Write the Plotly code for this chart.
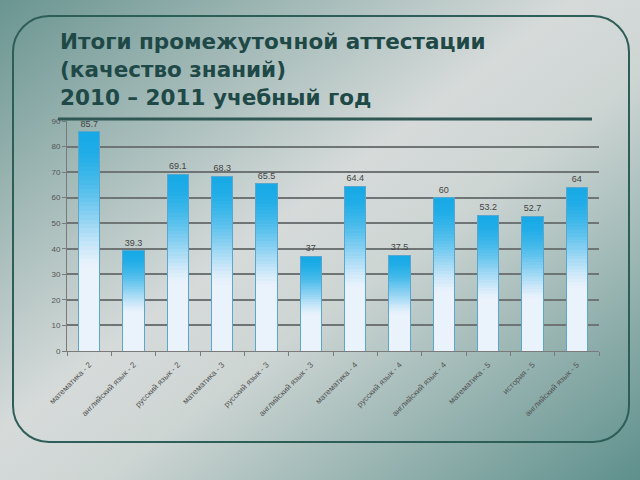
import base64
import plotly.graph_objects as go

subjects = [
    "математика - 2", "английский язык - 2", "русский язык - 2",
    "математика - 3", "русский язык - 3", "английский язык - 3",
    "математика - 4", "русский язык - 4", "английский язык - 4",
    "математика - 5", "история - 5", "английский язык - 5",
]
quality = [85.7, 39.3, 69.1, 68.3, 65.5, 37, 64.4, 37.5, 60, 53.2, 52.7, 64]
title_lines = ["Итоги промежуточной аттестации", "(качество знаний)", "2010 – 2011 учебный год"]

W, H = 640, 480
ML, MR, MT, MB = 67, 41, 121, 129
PW, PH = W - ML - MR, H - MT - MB


def px(x):
    return (x - ML) / PW


def py(y):
    return 1 - (y - MT) / PH


# slide background: diagonal teal -> light -> teal, plus rounded frame
svg = f"""<svg xmlns='http://www.w3.org/2000/svg' width='{W}' height='{H}' viewBox='0 0 {W} {H}' preserveAspectRatio='none'>
<defs><linearGradient id='g' x1='0' y1='0' x2='1' y2='1'>
<stop offset='0' stop-color='#6a9591'/>
<stop offset='0.45' stop-color='#d6dbda'/>
<stop offset='0.58' stop-color='#cdd5d3'/>
<stop offset='1' stop-color='#5e908c'/>
</linearGradient></defs>
<rect width='{W}' height='{H}' fill='url(#g)'/>
<rect x='13' y='16' width='616' height='426' rx='36' ry='36' fill='none' stroke='#2e5e58' stroke-width='2'/>
</svg>"""
bg = "data:image/svg+xml;base64," + base64.b64encode(svg.encode()).decode()


def mix(c1, c2, t):
    return "rgb({},{},{})".format(*[round(a + (b - a) * t) for a, b in zip(c1, c2)])


light = (234, 242, 252)
blue = (24, 170, 230)
n = 50

fig = go.Figure()
for i in range(n):
    f = (i + 0.5) / n
    s = min(max((f - 0.38) / 0.62, 0), 1)
    t = s * s * (3 - 2 * s)
    t = t ** 0.7
    fig.add_trace(go.Bar(
        x=subjects,
        y=[v / n for v in quality],
        marker_color=mix(light, blue, t),
        marker_line_width=0,
        hoverinfo="skip",
        showlegend=False,
    ))

# outline + value labels on an overlaid axis
fig.add_trace(go.Bar(
    x=subjects,
    y=quality,
    xaxis="x2",
    marker_color="rgba(0,0,0,0)",
    marker_line_color="#5aa6cc",
    marker_line_width=1,
    text=[str(v) for v in quality],
    textposition="outside",
    textfont=dict(size=9, color="#444444", family="Liberation Sans"),
    cliponaxis=False,
    showlegend=False,
))

fig.update_layout(
    width=W, height=H,
    margin=dict(l=ML, r=MR, t=MT, b=MB),
    paper_bgcolor="rgba(0,0,0,0)",
    plot_bgcolor="rgba(0,0,0,0)",
    barmode="stack",
    bargap=0.52,
    font=dict(family="Liberation Sans", color="#555555"),
    xaxis=dict(
        type="category",
        tickangle=-45,
        tickfont=dict(size=8, color="#555555"),
        ticklabelstandoff=5,
        showline=True, linecolor="#7a7a7a", linewidth=1,
        ticks="outside", tickson="boundaries", ticklen=4, tickcolor="#7a7a7a",
        showgrid=False,
    ),
    xaxis2=dict(
        type="category", overlaying="x", matches="x", visible=False,
    ),
    yaxis=dict(
        range=[0, 90],
        dtick=10,
        tickfont=dict(size=8, color="#555555"),
        showline=True, linecolor="#7a7a7a", linewidth=1,
        ticks="outside", ticklen=4, tickcolor="#7a7a7a",
        showgrid=True, gridcolor="#6f7474", gridwidth=1.5,
        zeroline=False,
    ),
    images=[dict(
        source=bg, xref="paper", yref="paper",
        x=px(0), y=py(0), sizex=W / PW, sizey=H / PH,
        xanchor="left", yanchor="top", sizing="stretch", layer="below",
    )],
    shapes=[dict(
        type="line", xref="paper", yref="paper",
        x0=px(58), x1=px(592), y0=py(119), y1=py(119),
        line=dict(color="#2f5753", width=3),
    )],
    annotations=[dict(
        text="<br>".join(title_lines),
        xref="paper", yref="paper",
        x=px(58), y=py(27),
        xanchor="left", yanchor="top", align="left",
        showarrow=False,
        font=dict(size=21.5, color="#1f4947", family="DejaVu Sans"),
    )],
)
fig.update_annotations(font_weight="bold")

fig.write_html("out.html", config={"displayModeBar": False},
               post_script="document.body.style.margin='0';")
